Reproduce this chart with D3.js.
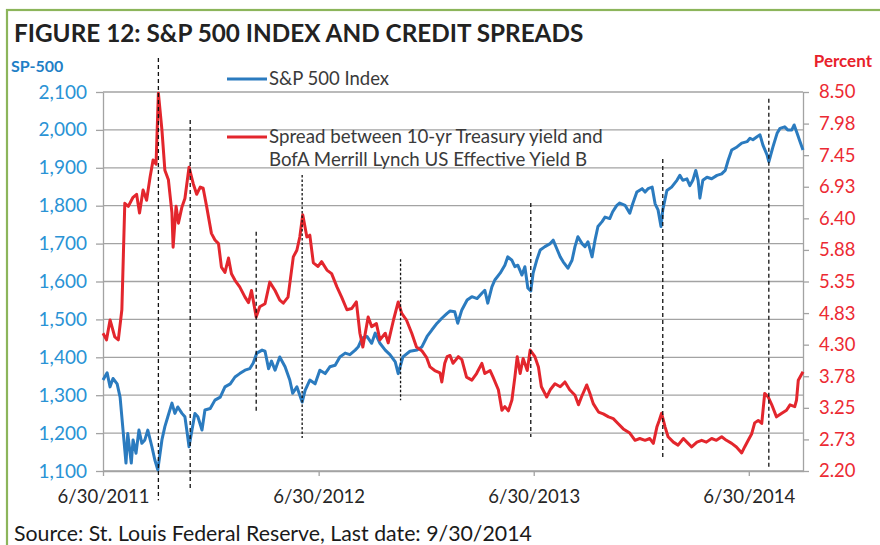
<!DOCTYPE html>
<html><head><meta charset="utf-8">
<script src="https://cdn.jsdelivr.net/npm/d3@7"></script>
<style>
body{margin:0;background:#fff;}
svg{display:block;font-family:Lato,'Open Sans',sans-serif;}
</style>
</head><body><svg id="chart" width="880" height="545"></svg>
<script>
// ---------- DATA ----------
const spxDates = ["2011-06-30","2011-07-07","2011-07-12","2011-07-17","2011-07-24","2011-07-29","2011-08-03","2011-08-08","2011-08-11","2011-08-17","2011-08-20","2011-08-25","2011-08-30","2011-09-04","2011-09-09","2011-09-14","2011-09-21","2011-09-26","2011-10-01","2011-10-08","2011-10-13","2011-10-18","2011-10-25","2011-10-30","2011-11-04","2011-11-11","2011-11-16","2011-11-20","2011-11-23","2011-11-28","2011-12-03","2011-12-08","2011-12-15","2011-12-20","2011-12-29","2012-01-06","2012-01-15","2012-01-23","2012-02-01","2012-02-09","2012-02-17","2012-02-26","2012-03-05","2012-03-11","2012-03-17","2012-03-26","2012-03-31","2012-04-06","2012-04-11","2012-04-17","2012-04-25","2012-05-04","2012-05-12","2012-05-17","2012-05-24","2012-06-02","2012-06-07","2012-06-15","2012-06-24","2012-07-02","2012-07-11","2012-07-19","2012-07-28","2012-08-05","2012-08-14","2012-08-22","2012-08-31","2012-09-05","2012-09-12","2012-09-20","2012-09-28","2012-10-04","2012-10-12","2012-10-21","2012-10-29","2012-11-07","2012-11-12","2012-11-20","2012-12-02","2012-12-14","2012-12-22","2012-12-31","2013-01-08","2013-01-17","2013-01-25","2013-02-03","2013-02-08","2013-02-16","2013-02-21","2013-02-28","2013-03-09","2013-03-17","2013-03-26","2013-04-03","2013-04-08","2013-04-13","2013-04-20","2013-04-25","2013-05-04","2013-05-12","2013-05-17","2013-05-24","2013-05-29","2013-06-03","2013-06-10","2013-06-15","2013-06-20","2013-06-25","2013-06-29","2013-07-05","2013-07-11","2013-07-19","2013-07-28","2013-08-02","2013-08-08","2013-08-14","2013-08-19","2013-08-27","2013-09-03","2013-09-08","2013-09-13","2013-09-20","2013-09-25","2013-09-30","2013-10-07","2013-10-12","2013-10-17","2013-10-24","2013-10-29","2013-11-06","2013-11-11","2013-11-18","2013-11-23","2013-12-02","2013-12-10","2013-12-15","2013-12-22","2013-12-31","2014-01-05","2014-01-10","2014-01-17","2014-01-22","2014-01-27","2014-02-01","2014-02-04","2014-02-11","2014-02-19","2014-02-28","2014-03-05","2014-03-10","2014-03-17","2014-03-22","2014-03-27","2014-04-01","2014-04-05","2014-04-08","2014-04-13","2014-04-20","2014-04-28","2014-05-07","2014-05-15","2014-05-21","2014-05-26","2014-06-01","2014-06-10","2014-06-18","2014-06-27","2014-07-02","2014-07-07","2014-07-14","2014-07-19","2014-07-24","2014-07-31","2014-08-03","2014-08-10","2014-08-17","2014-08-22","2014-08-30","2014-09-04","2014-09-11","2014-09-15","2014-09-20","2014-09-25","2014-09-30"];
const spxValues = [1340,1359,1322,1344,1330,1295,1208,1121,1199,1121,1182,1147,1208,1173,1182,1208,1164,1129,1103,1182,1217,1243,1279,1252,1269,1252,1243,1199,1164,1208,1252,1243,1208,1261,1265,1287,1295,1322,1330,1348,1357,1366,1370,1385,1411,1419,1416,1370,1390,1366,1401,1375,1340,1305,1322,1282,1313,1340,1330,1366,1357,1375,1379,1401,1411,1407,1419,1427,1451,1455,1437,1464,1437,1419,1407,1388,1357,1401,1416,1419,1427,1455,1472,1490,1503,1516,1522,1520,1490,1525,1551,1560,1555,1569,1577,1543,1586,1604,1622,1643,1665,1656,1639,1643,1617,1639,1583,1575,1622,1656,1683,1692,1700,1709,1687,1665,1652,1635,1656,1692,1718,1700,1692,1705,1665,1709,1745,1758,1770,1766,1784,1801,1807,1801,1780,1805,1836,1845,1836,1845,1849,1805,1789,1745,1789,1840,1849,1867,1880,1867,1871,1853,1867,1893,1867,1820,1867,1875,1871,1880,1884,1893,1920,1947,1955,1965,1969,1978,1974,1982,1987,1960,1934,1916,1955,1991,2004,2008,2000,2000,2013,1991,1969,1947];

const spreadDates = ["2011-06-30","2011-07-06","2011-07-12","2011-07-20","2011-07-26","2011-08-01","2011-08-06","2011-08-12","2011-08-20","2011-08-26","2011-08-31","2011-09-06","2011-09-12","2011-09-18","2011-09-23","2011-09-28","2011-10-02","2011-10-08","2011-10-13","2011-10-19","2011-10-25","2011-10-27","2011-11-01","2011-11-05","2011-11-11","2011-11-16","2011-11-23","2011-11-30","2011-12-06","2011-12-12","2011-12-17","2011-12-23","2011-12-31","2012-01-06","2012-01-12","2012-01-17","2012-01-23","2012-01-29","2012-02-03","2012-02-09","2012-02-17","2012-02-26","2012-03-03","2012-03-08","2012-03-16","2012-03-22","2012-03-31","2012-04-08","2012-04-17","2012-04-25","2012-05-01","2012-05-09","2012-05-18","2012-05-24","2012-05-29","2012-06-03","2012-06-10","2012-06-15","2012-06-21","2012-06-29","2012-07-05","2012-07-14","2012-07-22","2012-07-31","2012-08-08","2012-08-17","2012-08-25","2012-09-02","2012-09-08","2012-09-13","2012-09-22","2012-09-28","2012-10-06","2012-10-12","2012-10-21","2012-10-26","2012-11-04","2012-11-12","2012-11-18","2012-11-26","2012-12-05","2012-12-13","2012-12-22","2012-12-30","2013-01-05","2013-01-13","2013-01-22","2013-01-25","2013-01-30","2013-02-03","2013-02-08","2013-02-13","2013-02-22","2013-02-28","2013-03-08","2013-03-17","2013-03-25","2013-04-03","2013-04-08","2013-04-17","2013-04-22","2013-05-01","2013-05-07","2013-05-12","2013-05-18","2013-05-24","2013-05-29","2013-06-02","2013-06-07","2013-06-12","2013-06-19","2013-06-24","2013-07-02","2013-07-08","2013-07-13","2013-07-22","2013-07-28","2013-08-05","2013-08-14","2013-08-22","2013-08-30","2013-09-08","2013-09-14","2013-09-19","2013-09-28","2013-10-03","2013-10-09","2013-10-18","2013-10-26","2013-11-04","2013-11-12","2013-11-20","2013-11-29","2013-12-10","2013-12-19","2013-12-27","2014-01-05","2014-01-13","2014-01-19","2014-01-25","2014-01-29","2014-02-02","2014-02-08","2014-02-13","2014-02-22","2014-03-02","2014-03-11","2014-03-19","2014-03-25","2014-04-03","2014-04-11","2014-04-19","2014-04-28","2014-05-06","2014-05-15","2014-05-23","2014-06-01","2014-06-09","2014-06-18","2014-06-23","2014-06-29","2014-07-05","2014-07-10","2014-07-16","2014-07-22","2014-07-27","2014-08-02","2014-08-08","2014-08-16","2014-08-25","2014-09-02","2014-09-08","2014-09-16","2014-09-19","2014-09-22","2014-09-30"];
const spreadValues = [4.49,4.38,4.71,4.43,4.38,4.88,6.65,6.60,6.75,6.80,6.49,6.87,6.70,7.09,7.37,7.30,8.48,7.87,7.20,7.04,6.49,5.92,6.60,6.32,6.59,6.73,7.25,6.98,6.80,6.92,6.90,6.59,6.15,6.04,5.98,5.59,5.50,5.74,5.48,5.37,5.26,5.09,5.00,5.20,4.76,4.93,4.98,5.34,5.20,5.04,4.99,5.09,5.76,5.87,6.09,6.46,6.09,6.12,5.66,5.60,5.68,5.54,5.48,5.26,5.09,4.88,4.90,5.01,4.49,4.26,4.76,4.60,4.65,4.38,4.49,4.33,4.71,5.01,4.82,4.71,4.49,4.26,4.20,4.09,3.93,3.87,3.83,3.68,3.99,4.10,4.12,3.99,4.10,4.05,3.76,3.71,3.82,3.99,3.82,3.87,3.76,3.55,3.21,3.27,3.20,3.38,3.76,4.10,3.82,4.07,3.87,4.21,4.10,3.93,3.60,3.43,3.55,3.65,3.60,3.68,3.55,3.46,3.30,3.43,3.63,3.50,3.32,3.18,3.15,3.10,3.07,2.99,2.90,2.83,2.71,2.74,2.71,2.74,2.66,2.93,3.04,3.16,2.93,2.77,2.68,2.63,2.74,2.66,2.60,2.68,2.71,2.68,2.74,2.71,2.77,2.71,2.66,2.60,2.50,2.60,2.71,2.82,3.00,3.04,2.99,3.49,3.43,3.30,3.10,3.16,3.21,3.30,3.27,3.38,3.71,3.85];

const leftTicks = [1100,1200,1300,1400,1500,1600,1700,1800,1900,2000,2100];
const rightTicks = [2.2,2.725,3.25,3.775,4.3,4.825,5.35,5.875,6.4,6.925,7.45,7.975,8.5];
const rightTickLabels = ["2.20","2.73","3.25","3.78","4.30","4.83","5.35","5.88","6.40","6.93","7.45","7.98","8.50"];
const xTickDates = ["2011-06-30","2012-06-30","2013-06-30","2014-06-30"];
const xTickLabels = ["6/30/2011","6/30/2012","6/30/2013","6/30/2014"];
// event markers (dashed verticals): date and vertical extent in S&P units
const eventDates = ["2011-10-02","2011-11-25","2012-03-16","2012-06-02","2012-11-16","2013-06-25","2014-02-04","2014-08-03"];
const eventTop =    [2190,2026,1731,1881,1659,1807,1923,2082];
const eventBottom = [1023,1050,1253,1187,1287,1190,1137,1111];
const eventDotted = [false,false,false,true,true,false,false,false];

const seriesNames = ["S&P 500 Index","Spread between 10-yr Treasury yield and","BofA Merrill Lynch US Effective Yield B"];
const titleText = "FIGURE 12: S&P 500 INDEX AND CREDIT SPREADS";
const sourceText = "Source: St. Louis Federal Reserve, Last date: 9/30/2014";

// ---------- DRAW ----------
const parse = d3.timeParse("%Y-%m-%d");
const svg = d3.select("#chart");
const L = 103, R = 803, T = 92, B = 471;
const BLUE = "#2b7bbf", RED = "#e3262d", GRID = "#a3a3a3";

const x = d3.scaleTime().domain([parse("2011-06-30"), parse("2014-09-30")]).range([L, R]);
const yL = d3.scaleLinear().domain([1100, 2100]).range([B, T]);
const yR = d3.scaleLinear().domain([2.2, 8.5]).range([B, T]);

// border
svg.append("rect").attr("x",7).attr("y",10).attr("width",900).attr("height",600)
  .attr("fill","none").attr("stroke","#8cb55b").attr("stroke-width",2.2);

// title
svg.append("text").attr("x",14).attr("y",42).text(titleText)
  .attr("font-size",24.3).attr("font-weight",700).attr("fill","#222");

// gridlines
svg.append("g").selectAll("line").data(leftTicks).join("line")
  .attr("x1",L).attr("x2",R).attr("y1",d=>yL(d)).attr("y2",d=>yL(d))
  .attr("stroke",GRID).attr("stroke-width",1.3);

// left axis
const gl = svg.append("g").attr("transform",`translate(${L},0)`)
  .call(d3.axisLeft(yL).tickValues(leftTicks).tickFormat(d3.format(",")).tickSize(7).tickSizeOuter(0).tickPadding(9));
gl.select(".domain").attr("stroke",GRID).attr("stroke-width",1.3);
gl.selectAll(".tick line").attr("stroke",GRID).attr("stroke-width",1.3);
gl.selectAll(".tick text").attr("fill","#2a93d5").attr("font-size",19).attr("font-family","Lato");

// right axis
const gr = svg.append("g").attr("transform",`translate(${R},0)`)
  .call(d3.axisRight(yR).tickValues(rightTicks).tickFormat((d,i)=>rightTickLabels[i]).tickSize(6).tickSizeOuter(0).tickPadding(10));
gr.select(".domain").attr("stroke",GRID).attr("stroke-width",1.3);
gr.selectAll(".tick line").attr("stroke",GRID).attr("stroke-width",1.3);
gr.selectAll(".tick text").attr("fill","#ec2a33").attr("font-size",18.5).attr("font-family","Lato");

// bottom axis
const gb = svg.append("g").attr("transform",`translate(0,${B})`)
  .call(d3.axisBottom(x).tickValues(xTickDates.map(parse)).tickFormat((d,i)=>xTickLabels[i]).tickSize(5).tickSizeOuter(0).tickPadding(14));
gb.select(".domain").attr("stroke",GRID).attr("stroke-width",1.3);
gb.selectAll(".tick line").attr("stroke",GRID).attr("stroke-width",1.3);
gb.selectAll(".tick text").attr("fill","#262626").attr("font-size",18.5).attr("font-family","Lato");

// axis titles
svg.append("text").attr("x",11).attr("y",72).text("SP-500")
  .attr("font-size",16).attr("font-weight",700).attr("fill","#1f80c6");
svg.append("text").attr("x",872).attr("y",67).attr("text-anchor","end").text("Percent")
  .attr("font-size",17).attr("font-weight",700).attr("fill","#e8212b");

// series
const spx = spxDates.map((d,i)=>({date:parse(d), v:spxValues[i]}));
const spread = spreadDates.map((d,i)=>({date:parse(d), v:spreadValues[i]}));
svg.append("path").datum(spx)
  .attr("d", d3.line().x(d=>x(d.date)).y(d=>yL(d.v)))
  .attr("fill","none").attr("stroke",BLUE).attr("stroke-width",3).attr("stroke-linejoin","round");
svg.append("path").datum(spread)
  .attr("d", d3.line().x(d=>x(d.date)).y(d=>yR(d.v)))
  .attr("fill","none").attr("stroke",RED).attr("stroke-width",3).attr("stroke-linejoin","round");

// event lines
svg.append("g").selectAll("line").data(eventDates).join("line")
  .attr("x1",d=>x(parse(d))).attr("x2",d=>x(parse(d)))
  .attr("y1",(d,i)=>yL(eventTop[i])).attr("y2",(d,i)=>yL(eventBottom[i]))
  .attr("stroke","#111").attr("stroke-width",1.3)
  .attr("stroke-dasharray",(d,i)=>eventDotted[i]?"2.5,2":"4,3");

// legend
const lg = svg.append("g");
lg.append("line").attr("x1",227).attr("x2",267).attr("y1",79).attr("y2",79).attr("stroke",BLUE).attr("stroke-width",3);
lg.append("text").attr("x",269).attr("y",85).text(seriesNames[0]).attr("font-size",18.5).attr("fill","#3a3a3a");
lg.append("line").attr("x1",227).attr("x2",267).attr("y1",137).attr("y2",137).attr("stroke",RED).attr("stroke-width",3);
lg.append("text").attr("x",269).attr("y",143).text(seriesNames[1]).attr("font-size",18.7).attr("fill","#3a3a3a");
lg.append("text").attr("x",269).attr("y",166).text(seriesNames[2]).attr("font-size",18.7).attr("fill","#3a3a3a");

// source
svg.append("text").attr("x",14).attr("y",541).text(sourceText)
  .attr("font-size",21.3).attr("fill","#1a1a1a");
</script></body></html>
